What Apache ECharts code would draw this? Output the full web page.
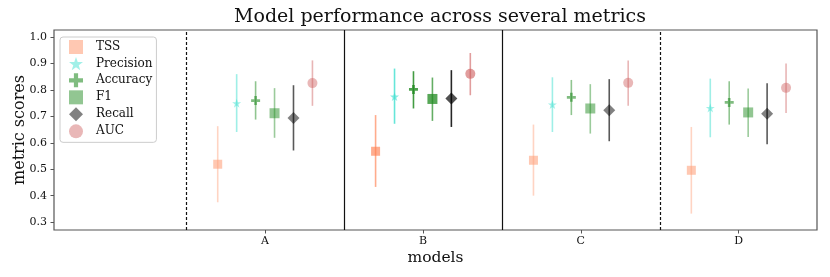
<!DOCTYPE html>
<html><head><meta charset="utf-8">
<script src="https://cdn.jsdelivr.net/npm/echarts@6/dist/echarts.min.js"></script>
<style>html,body{margin:0;padding:0;background:#fff}#c{width:830px;height:277px}</style>
</head><body><div id="c"></div>
<script>
const models = ['A','B','C','D'];
const metrics = ['TSS','Precision','Accuracy','F1','Recall','AUC'];
const yTicks = [0.3,0.4,0.5,0.6,0.7,0.8,0.9,1.0];
// mean, lower and upper error values per metric, one entry per model
const tssMean  = [0.519,0.568,0.534,0.496];
const tssLow   = [0.375,0.433,0.400,0.332];
const tssHigh  = [0.663,0.705,0.669,0.660];
const precMean = [0.750,0.775,0.745,0.732];
const precLow  = [0.641,0.672,0.641,0.621];
const precHigh = [0.860,0.881,0.848,0.843];
const accMean  = [0.760,0.802,0.772,0.753];
const accLow   = [0.688,0.730,0.705,0.669];
const accHigh  = [0.833,0.871,0.838,0.833];
const f1Mean   = [0.712,0.766,0.730,0.715];
const f1Low    = [0.619,0.683,0.635,0.622];
const f1High   = [0.807,0.847,0.822,0.806];
const recMean  = [0.694,0.768,0.723,0.710];
const recLow   = [0.571,0.660,0.606,0.595];
const recHigh  = [0.818,0.875,0.841,0.825];
const aucMean  = [0.826,0.861,0.827,0.808];
const aucLow   = [0.740,0.780,0.740,0.713];
const aucHigh  = [0.912,0.940,0.912,0.900];
const highlightModel = 'B';
const separators = [-0.5,0.5,1.5,2.5];
const separatorDashed = [true,false,false,true];

const means = [tssMean,precMean,accMean,f1Mean,recMean,aucMean];
const lows = [tssLow,precLow,accLow,f1Low,recLow,aucLow];
const highs = [tssHigh,precHigh,accHigh,f1High,recHigh,aucHigh];
const offsets = [-0.3,-0.18,-0.06,0.06,0.18,0.3];
const starPath = 'path://M50,0 L61.8,35.1 L98.1,35.1 L68.8,56.8 L79.4,91.6 L50,70.5 L20.6,91.6 L31.2,56.8 L1.9,35.1 L38.2,35.1 Z';
const plusPath = 'path://M35,0 H65 V35 H100 V65 H65 V100 H35 V65 H0 V35 H35 Z';
const symbols = ['rect', starPath, plusPath, 'rect', 'diamond', 'circle'];
const sizes = [9, 9, 9, 10, 12, 10];
const lightCol = ['rgba(255,160,122,0.72)','rgba(64,224,208,0.62)','rgba(34,139,34,0.72)','rgba(34,139,34,0.62)','rgba(0,0,0,0.62)','rgba(205,92,92,0.55)'];
const strongCol = ['rgba(255,127,80,0.8)','rgba(64,224,208,0.8)','rgba(34,139,34,1)','rgba(34,139,34,0.95)','rgba(0,0,0,0.85)','rgba(205,92,92,0.75)'];
const lightErr = ['rgba(255,160,122,0.45)','rgba(64,224,208,0.5)','rgba(34,139,34,0.5)','rgba(34,139,34,0.45)','rgba(0,0,0,0.65)','rgba(205,92,92,0.45)'];
const strongErr = ['rgba(255,127,80,0.65)','rgba(64,224,208,0.8)','rgba(34,139,34,0.85)','rgba(34,139,34,0.7)','rgba(0,0,0,0.85)','rgba(205,92,92,0.6)'];
const serif = 'DejaVu Serif';

const series = [];
metrics.forEach((m, k) => {
  const errData = models.map((md, i) => [i + offsets[k], lows[k][i], highs[k][i], md === highlightModel ? 1 : 0]);
  series.push({
    name: m + ' err', type: 'custom', z: 2, silent: true,
    data: errData,
    encode: {x: 0, y: [1, 2]},
    renderItem: (params, api) => {
      const p1 = api.coord([api.value(0), api.value(1)]);
      const p2 = api.coord([api.value(0), api.value(2)]);
      const hl = api.value(3) === 1;
      return {type: 'line', shape: {x1: p1[0], y1: p1[1], x2: p2[0], y2: p2[1]},
        style: {stroke: hl ? strongErr[k] : lightErr[k], lineWidth: 1.6}};
    }
  });
  series.push({
    name: m, type: 'scatter', z: 3,
    symbol: symbols[k], symbolSize: sizes[k],
    itemStyle: {color: lightCol[k]},
    data: models.map((md, i) => ({value: [i + offsets[k], means[k][i]],
      itemStyle: {color: md === highlightModel ? strongCol[k] : lightCol[k]}}))
  });
});
series.push({
  name: 'sep', type: 'scatter', data: [], silent: true,
  markLine: {
    silent: true, symbol: ['none','none'], label: {show: false},
    data: separators.map((s, i) => ({xAxis: s, lineStyle: {color: '#111', width: 1.2, type: separatorDashed[i] ? [3,2] : 'solid'}}))
  }
});

const chart = echarts.init(document.getElementById('c'), null, {renderer: 'canvas'});
chart.setOption({
  animation: false,
  backgroundColor: '#fff',
  title: {text: 'Model performance across several metrics', left: 435, textAlign: 'center', top: 3,
    textStyle: {fontFamily: serif, fontWeight: 'normal', fontSize: 19, color: '#111'}},
  grid: {left: 54, right: 13, top: 30, bottom: 47, show: true, borderColor: '#555', borderWidth: 1.2,
    containLabel: false, outerBoundsMode: 'none'},
  legend: {
    data: metrics.map((m, k) => ({name: m, icon: symbols[k]})),
    orient: 'vertical', left: 60, top: 37, itemWidth: 14, itemHeight: 14, itemGap: 3,
    borderColor: '#ccc', borderWidth: 1, borderRadius: 3, padding: [3, 4, 4, 9],
    textStyle: {fontFamily: serif, fontSize: 12, color: '#111', padding: [0,0,0,8]}
  },
  xAxis: {
    type: 'value', min: -1.337, max: 3.496,
    name: 'models', nameLocation: 'middle', nameGap: 20, nameMoveOverlap: false,
    nameTextStyle: {fontFamily: serif, fontSize: 15.5, color: '#111'},
    axisLine: {show: false, onZero: false}, splitLine: {show: false},
    axisTick: {show: true, customValues: [0,1,2,3], length: 3.5, lineStyle: {color: '#555'}},
    axisLabel: {customValues: [0,1,2,3], formatter: v => models[Math.round(v)] || '',
      fontFamily: serif, fontSize: 11, color: '#111', margin: 6}
  },
  yAxis: {
    type: 'value', min: 0.27, max: 1.027,
    name: 'metric scores', nameLocation: 'middle', nameGap: 26, nameRotate: 90, nameMoveOverlap: false,
    nameTextStyle: {fontFamily: serif, fontSize: 16, color: '#111'},
    axisLine: {show: false, onZero: false}, splitLine: {show: false},
    axisTick: {show: true, customValues: yTicks, length: 3.5, lineStyle: {color: '#555'}},
    axisLabel: {customValues: yTicks, formatter: v => v.toFixed(1),
      fontFamily: serif, fontSize: 11, color: '#111', margin: 7}
  },
  series: series
});
</script></body></html>
